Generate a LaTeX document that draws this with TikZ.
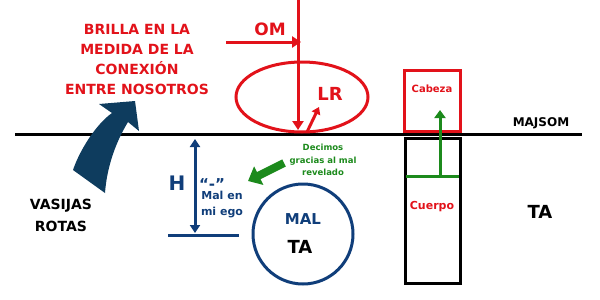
\documentclass[tikz,border=0pt]{standalone}
\usepackage{fontspec}
\setmainfont{DejaVu Sans}
\usepackage{tikz}
\usetikzlibrary{arrows.meta,positioning}
\definecolor{lrred}{RGB}{226,18,26}
\definecolor{malblue}{RGB}{16,62,122}
\definecolor{vasblue}{RGB}{14,60,94}
\definecolor{gragreen}{RGB}{28,138,28}

\begin{document}
\begin{tikzpicture}[x=1pt, y=-1pt, >=Triangle,
    txt/.style={inner sep=0pt, align=center, font=\bfseries},
    redline/.style={draw=lrred, line width=3pt},
    blueline/.style={draw=malblue, line width=3pt}]
  \useasboundingbox (0,0) rectangle (600,300);
  % majsom line
  \coordinate (majl) at (15,134);
  \coordinate (majr) at (582,134);
  \draw[line width=3pt] (majl) -- (majr);
  \node[txt, font=\bfseries\fontsize{12}{14}\selectfont] (majsom) at (541,123) {MAJSOM};
  \node[txt, font=\bfseries\fontsize{18}{20}\selectfont] (tader) at (540,212) {TA};

  % OM y LR
  \node[txt, text=lrred, font=\bfseries\fontsize{14}{20}\selectfont] (brilla) at (137,59) {BRILLA EN LA\\MEDIDA DE LA\\CONEXIÓN\\ENTRE NOSOTROS};
  \node[txt, text=lrred, font=\bfseries\fontsize{17}{20}\selectfont] (om) at (270,29) {OM};
  \coordinate (omtail) at (226,42);
  \coordinate (omtip) at (301,42);
  \draw[redline, -{Triangle[length=9pt,width=11pt]}] (omtail) -- (omtip);
  \coordinate (lrtop) at (298,-2);
  \coordinate (lrbot) at (298,130);
  \draw[redline, -{Triangle[length=9pt,width=11pt]}] (lrtop) -- (lrbot);
  \coordinate (lrc) at (302,97);
  \draw[redline] (lrc) ellipse [x radius=66, y radius=35];
  \node[txt, text=lrred, font=\bfseries\fontsize{18}{20}\selectfont] (lr) at (330,94) {LR};
  \coordinate (lrsmall) at (307,132);
  \coordinate (lrup) at (319,107);
  \draw[redline, -{Triangle[length=7pt,width=9pt]}] (lrsmall) -- (lrup);

  % vasijas rotas
  \fill[vasblue] (73,170) .. controls (79,152) and (95,125) .. (112,113) -- (99,104) -- (135,101)
    -- (139,131) -- (128,122) .. controls (117,140) and (107,165) .. (105,193) -- cycle;
  \node[txt, font=\bfseries\fontsize{14}{22}\selectfont] (vasijas) at (61,215) {VASIJAS\\ROTAS};

  % H
  \coordinate (htop) at (195,139);
  \coordinate (hbot) at (195,233);
  \draw[blueline, {Triangle[length=8pt,width=10pt]}-{Triangle[length=8pt,width=10pt]}] (htop) -- (hbot);
  \coordinate (basel) at (168,235);
  \coordinate (baser) at (239,235);
  \draw[blueline] (basel) -- (baser);
  \node[txt, text=malblue, font=\bfseries\fontsize{20}{22}\selectfont] (h) at (177,183) {H};
  \node[txt, text=malblue, font=\bfseries\fontsize{15}{16}\selectfont] (comillas) at (212,184) {“-”};
  \node[txt, text=malblue, font=\bfseries\fontsize{11}{16}\selectfont] (malego) at (222,205) {Mal en\\mi ego};

  % decimos gracias
  \node[txt, text=gragreen, font=\bfseries\fontsize{8.5}{12.5}\selectfont] (decimos) at (323,160) {Decimos\\gracias al mal\\revelado};
  \coordinate (grtail) at (284,163);
  \coordinate (grtip) at (248,181);
  \draw[gragreen, line width=8pt, -{Triangle[length=12pt,width=20pt]}] (grtail) -- (grtip);

  % mal
  \node[draw=malblue, line width=3pt, circle, minimum size=100pt] (mal) at (303,234) {};
  \node[txt, text=malblue, font=\bfseries\fontsize{15}{18}\selectfont] (maltxt) at (303,219) {MAL};
  \node[txt, font=\bfseries\fontsize{18}{20}\selectfont] (tamal) at (300,247) {TA};

  % cabeza y cuerpo
  \node[draw=lrred, line width=3pt, minimum width=56pt, minimum height=61pt] (cabeza) at (432,100.5) {};
  \node[txt, text=lrred, font=\bfseries\fontsize{10}{12}\selectfont] (cabtxt) at (432,89) {Cabeza};
  \node[draw, line width=3pt, minimum width=55pt, minimum height=145pt] (cuerpo) at (432.5,210.5) {};
  \node[txt, text=lrred, font=\bfseries\fontsize{11}{12}\selectfont] (cuetxt) at (432,207) {Cuerpo};
  \coordinate (grl) at (406,176);
  \coordinate (grr) at (459,176);
  \coordinate (grup) at (440,110);
  \draw[gragreen, line width=3pt] (grl) -- (grr);
  \draw[gragreen, line width=3pt, -{Triangle[length=8pt,width=11pt]}] (440,176) -- (grup);
\end{tikzpicture}
\end{document}
